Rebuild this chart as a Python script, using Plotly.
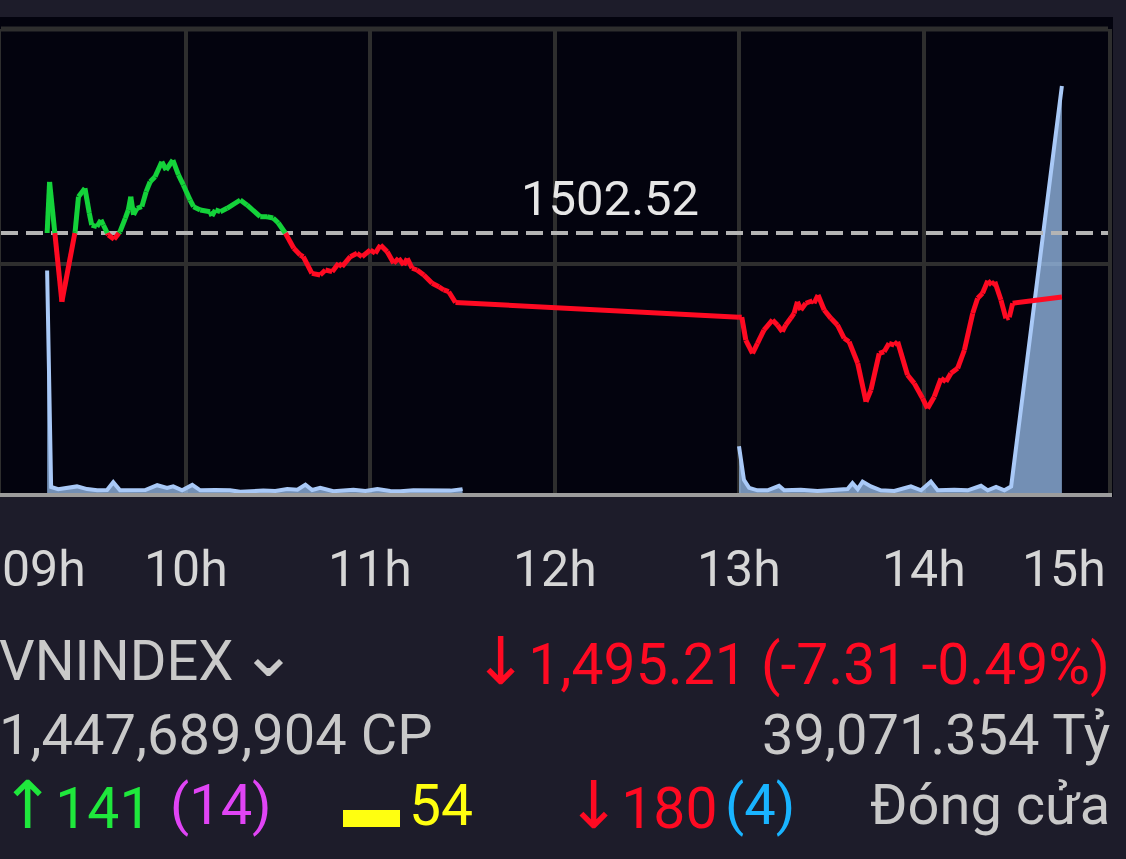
import plotly.graph_objects as go

# ---------------- data ----------------
ref_price = 1502.52
close_value = "1,495.21 (-7.31 -0.49%)"

# minutes since 09:00 and index value
price_min = [15.0, 15.8, 19.8, 24.1, 25.2, 27.3, 28.7, 29.5, 31.2, 32.5, 33.3, 34.9, 36.8, 38.7,
             40.4, 41.4, 42.2, 43.1, 44.2, 45.8, 47.2, 48.5, 50.1, 52.3, 53.7, 55.9, 57.7, 59.3,
             61.5, 62.6, 64.8, 68.0, 68.6, 69.7, 71.3, 73.5, 77.8, 80.0, 84.3, 86.5, 88.5, 90.2,
             92.5, 95.2, 97.3, 98.3, 101.1, 103.8, 105.5, 107.7, 109.8, 110.9, 113.6, 115.8, 117.4,
             120.1, 121.7, 123.4, 125.6, 127.7, 129.3, 131.0, 132.1, 133.7, 135.3, 137.5, 140.2,
             142.4, 144.0, 145.6, 147.8,
             240.0, 240.9, 242.2, 244.4, 246.0, 248.1, 250.9, 252.5, 254.1, 255.2, 256.8, 257.9,
             259.0, 260.1, 261.7, 263.9, 264.4, 265.7, 267.7, 269.9, 272.0, 274.2, 275.8, 278.6,
             281.3, 282.9, 285.6, 287.2, 288.8, 290.5, 291.6, 294.8, 297.0, 299.7, 301.3, 303.5,
             305.7, 307.3, 308.9, 311.1, 313.3, 316.0, 317.6, 319.2, 320.9, 322.2, 323.2, 325.2,
             326.8, 327.9, 329.0, 345.0]
price_val = [1502.52, 1508.35, 1494.67, 1502.67, 1506.67, 1507.63, 1504.81, 1503.43, 1503.24, 1504.01,
             1503.43, 1502.29, 1501.80, 1502.67, 1504.20, 1505.15, 1506.67, 1504.58, 1505.34, 1505.53,
             1507.24, 1508.38, 1508.95, 1510.67, 1509.72, 1510.86, 1509.15, 1508.01, 1506.29, 1505.53,
             1505.15, 1504.95, 1504.46, 1505.15, 1504.95, 1505.34, 1506.29, 1505.72, 1504.38, 1504.38,
             1504.23, 1503.66, 1502.49, 1500.77, 1500.01, 1499.81, 1497.91, 1497.72, 1498.29, 1498.10,
             1499.06, 1498.67, 1499.81, 1500.20, 1499.81, 1500.58, 1500.20, 1501.15, 1500.38, 1499.06,
             1499.63, 1498.86, 1499.63, 1498.49, 1498.29, 1497.72, 1496.77, 1496.38, 1496.01, 1495.81,
             1494.58,
             1492.90, 1492.90, 1490.29, 1488.77, 1489.91, 1491.43, 1492.58, 1492.01, 1491.24, 1492.01,
             1492.77, 1493.34, 1494.67, 1493.72, 1494.49, 1494.78, 1494.49, 1495.43, 1493.72, 1492.77,
             1492.01, 1490.49, 1490.10, 1487.63, 1483.24, 1484.58, 1488.77, 1488.95, 1489.91, 1489.72,
             1490.10, 1486.29, 1485.34, 1483.63, 1482.48, 1483.81, 1485.91, 1485.52, 1486.48, 1487.06,
             1489.15, 1493.34, 1495.06, 1495.63, 1497.07, 1496.58, 1496.95, 1494.86, 1492.77, 1492.89,
             1494.49, 1495.21]

# volume per interval (relative units); morning session then afternoon session
vol_min_am = [15.0, 16.3, 18.6, 24.7, 28.0, 31.3, 34.5, 36.5, 38.7, 43.0, 46.9, 50.8, 54.0, 56.0, 58.9,
              62.2, 64.8, 69.7, 74.5, 77.8, 82.7, 85.3, 89.2, 93.1, 96.4, 99.0, 101.2, 103.8, 108.1,
              114.6, 118.5, 122.4, 126.6, 129.9, 134.1, 138.0, 141.9, 146.2, 150.1]
vol_val_am = [74.3, 2.0, 1.3, 2.2, 1.3, 0.9, 1.0, 3.6, 0.9, 1.1, 1.0, 2.6, 1.7, 2.2, 0.9,
              2.7, 0.9, 1.0, 0.9, 0.4, 0.7, 0.8, 0.7, 1.3, 1.1, 2.8, 1.0, 1.7, 0.6,
              1.1, 0.7, 1.3, 0.7, 0.6, 0.9, 0.8, 0.9, 0.8, 1.3]
vol_min_pm = [240.0, 241.6, 243.3, 246.0, 249.3, 253.0, 254.7, 260.1, 265.5, 270.9, 275.3, 276.9,
              278.6, 280.2, 282.9, 286.1, 290.5, 295.9, 299.2, 302.4, 304.6, 310.0, 314.4, 318.7,
              320.9, 323.6, 326.3, 328.5, 345.0]
vol_val_pm = [15.6, 4.4, 1.7, 0.9, 0.9, 2.4, 0.9, 1.1, 0.7, 1.1, 1.3, 3.3,
              1.3, 3.8, 2.2, 0.9, 0.7, 2.2, 0.9, 3.8, 0.9, 1.1, 0.9, 2.4,
              0.9, 2.0, 0.9, 2.2, 136.0]

hour_ticks = [0, 60, 120, 180, 240, 300, 360]
hour_labels = ["09h", "10h", "11h", "12h", "13h", "14h", "15h"]

# ---------------- styling ----------------
OUTER = "#1d1c2a"
PLOT_BG = "#03030e"
GRID = "#2e2e2e"
RED = "#ff0a22"
GREEN = "#14d23a"
GREY_TXT = "#c9c9c9"

# split price series into above (green) / below (red) reference pieces
gx, gy, rx, ry = [], [], [], []
def add(xs, ys, x0, y0, x1, y1):
    xs.extend([x0, x1, None]); ys.extend([y0, y1, None])
for i in range(len(price_min) - 1):
    x0, y0, x1, y1 = price_min[i], price_val[i], price_min[i + 1], price_val[i + 1]
    a0, a1 = y0 >= ref_price, y1 >= ref_price
    if a0 == a1:
        add(gx if a0 else rx, gy if a0 else ry, x0, y0, x1, y1)
    else:
        t = (ref_price - y0) / (y1 - y0)
        xc = x0 + t * (x1 - x0)
        add(gx if a0 else rx, gy if a0 else ry, x0, y0, xc, ref_price)
        add(gx if a1 else rx, gy if a1 else ry, xc, ref_price, x1, y1)

fig = go.Figure()
# volume on the base axis (drawn underneath)
for vx, vy in ((vol_min_am, vol_val_am), (vol_min_pm, vol_val_pm)):
    fig.add_trace(go.Scatter(x=vx, y=vy, yaxis="y", mode="lines",
                             line=dict(color="#a9c9f7", width=4), fill="tozeroy",
                             fillcolor="rgba(160,198,245,0.72)", hoverinfo="skip"))
# price on the overlaying axis (drawn on top)
fig.add_trace(go.Scatter(x=[0, 360], y=[ref_price, ref_price], yaxis="y2", mode="lines",
                         line=dict(color="#b4b4b4", width=4, dash="17px,8px"), hoverinfo="skip"))
fig.add_trace(go.Scatter(x=rx, y=ry, yaxis="y2", mode="lines", line=dict(color=RED, width=5),
                         connectgaps=False, hoverinfo="skip"))
fig.add_trace(go.Scatter(x=gx, y=gy, yaxis="y2", mode="lines", line=dict(color=GREEN, width=5),
                         connectgaps=False, hoverinfo="skip"))

W, H = 1126, 859
ml, mr, mt, mb = 1, 18, 29, 366
pw, ph = W - ml - mr, H - mt - mb
def px(xp):
    return (xp - ml) / pw
def py(yp):
    return (H - mb - yp) / ph

shapes = [
    dict(type="rect", xref="paper", yref="paper", x0=px(-5), x1=px(1113), y0=py(497), y1=py(17),
         fillcolor=PLOT_BG, line=dict(width=0), layer="below"),
    dict(type="line", xref="paper", yref="paper", x0=0, x1=1, y0=1, y1=1,
         line=dict(color=GRID, width=5), layer="below"),
    dict(type="rect", xref="paper", yref="paper", x0=px(343), x1=px(400), y0=py(827), y1=py(810),
         fillcolor="#ffff10", line=dict(width=0)),
]

annotations = []
for v, lab in zip(hour_ticks, hour_labels):
    if v == hour_ticks[0]:
        a = dict(x=px(0), xref="paper", xanchor="left")
    elif v == hour_ticks[-1]:
        a = dict(x=v, xref="x", xanchor="right")
    else:
        a = dict(x=v, xref="x", xanchor="center")
    a.update(y=py(569), yref="paper", text=lab, showarrow=False, yanchor="middle",
             font=dict(family="Roboto", size=50, color="#d6d6d6"))
    annotations.append(a)
annotations.append(dict(x=198, xref="x", y=ref_price + 3.9, yref="y2", text=f"{ref_price:.2f}",
                        showarrow=False, xanchor="center", yanchor="middle",
                        font=dict(family="Roboto", size=49, color="#e6e6e6")))

def txt(xp, yp, text, color, anchor="left", size=56, family="Roboto"):
    annotations.append(dict(x=px(xp), xref="paper", y=py(yp), yref="paper", text=text,
                            showarrow=False, xanchor=anchor, yanchor="middle",
                            font=dict(family=family, size=size, color=color)))

def arrow(ch):
    return f'<span style="font-family:DejaVu Sans;font-size:66px">{ch}</span>'

txt(-3, 661, "VNINDEX", GREY_TXT)
txt(238, 652, "⌄", GREY_TXT, size=68, family="DejaVu Sans")
txt(1112, 661, arrow("↓") + close_value, RED, "right", size=57)
txt(-3, 735, "1,447,689,904 CP", GREY_TXT)
txt(1112, 735, "39,071.354 Tỷ", GREY_TXT, "right")
txt(-2, 805, arrow("↑") + "141", "#1fe83c", size=57)
txt(168, 805, "(14)", "#e044f5")
txt(407, 805, "54", "#ffff10", size=57)
txt(564, 805, arrow("↓") + "180", RED, size=57)
txt(723, 805, "(4)", "#19b4ff")
txt(1112, 805, "Đóng cửa", GREY_TXT, "right")

fig.update_layout(
    width=W, height=H, margin=dict(l=ml, r=mr, t=mt, b=mb),
    paper_bgcolor=OUTER, plot_bgcolor=PLOT_BG, showlegend=False,
    xaxis=dict(range=[0, 360], tickvals=hour_ticks, showticklabels=False, showgrid=True,
               gridcolor=GRID, gridwidth=4, zeroline=False, showline=True,
               linecolor="#9c9c9c", linewidth=4, ticks=""),
    yaxis=dict(range=[0, 155], showticklabels=False, showgrid=False, zeroline=False,
               showline=True, mirror=True, linecolor=GRID, linewidth=4, ticks=""),
    yaxis2=dict(range=[1472.81, 1525.83], overlaying="y", tickvals=[1499.0],
                showticklabels=False, showgrid=True, gridcolor=GRID, gridwidth=4,
                zeroline=False, showline=False, ticks=""),
    shapes=shapes, annotations=annotations,
)

fig.write_html("out.html", config={"displayModeBar": False},
               post_script="document.body.style.margin='0';document.body.style.overflow='hidden';")
